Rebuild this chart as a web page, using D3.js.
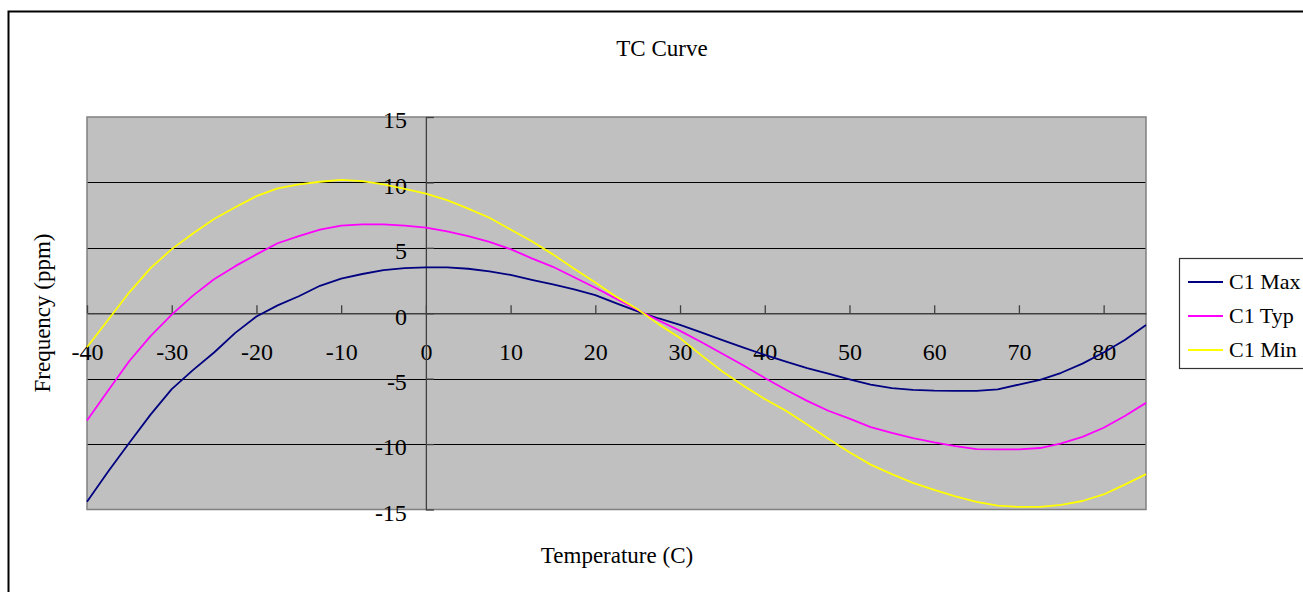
<!DOCTYPE html>
<html>
<head>
<meta charset="utf-8">
<script src="https://cdn.jsdelivr.net/npm/d3@7/dist/d3.min.js"></script>
<style>
  html, body { margin: 0; padding: 0; background: #fff; }
  svg { display: block; }
  text { font-family: "Liberation Serif", "DejaVu Serif", serif; fill: #000; }
</style>
</head>
<body>
<svg id="chart" width="1303" height="592"></svg>
<script>
// ---- data ----
const temps = [-40,-37.5,-35,-32.5,-30,-27.5,-25,-22.5,-20,-17.5,-15,-12.5,-10,-7.5,-5,-2.5,
  0,2.5,5,7.5,10,12.5,15,17.5,20,22.5,25,27.5,30,32.5,35,37.5,40,42.5,45,47.5,50,52.5,55,57.5,
  60,62.5,65,67.5,70,72.5,75,77.5,80,82.5,85];
const c1Max = [-14.4,-12.1,-9.9,-7.75,-5.8,-4.35,-3.0,-1.5,-0.25,0.6,1.3,2.1,2.65,3.0,3.3,3.45,
  3.5,3.5,3.4,3.2,2.93,2.55,2.2,1.83,1.38,0.75,0.15,-0.4,-0.89,-1.46,-2.06,-2.62,-3.18,-3.7,-4.2,-4.62,-5.05,-5.45,-5.72,-5.85,
  -5.92,-5.94,-5.94,-5.82,-5.45,-5.1,-4.55,-3.85,-3.0,-2.05,-0.9];
const c1Typ = [-8.2,-5.9,-3.65,-1.75,-0.1,1.35,2.6,3.6,4.5,5.35,5.9,6.4,6.7,6.8,6.8,6.7,
  6.55,6.25,5.9,5.45,4.9,4.2,3.55,2.75,1.95,1.1,0.25,-0.55,-1.35,-2.2,-3.1,-4.0,-4.95,-5.85,-6.7,-7.45,-8.05,-8.7,-9.15,-9.55,
  -9.87,-10.15,-10.38,-10.4,-10.4,-10.3,-9.95,-9.45,-8.75,-7.85,-6.85];
const c1Min = [-2.6,-0.5,1.6,3.45,4.9,6.1,7.2,8.1,8.95,9.55,9.85,10.05,10.2,10.1,9.85,9.5,
  9.15,8.65,8.0,7.3,6.4,5.5,4.5,3.4,2.35,1.25,0.3,-0.85,-1.9,-3.2,-4.45,-5.55,-6.55,-7.45,-8.5,-9.6,-10.63,-11.57,-12.3,-12.97,
  -13.5,-14.0,-14.42,-14.7,-14.8,-14.8,-14.65,-14.35,-13.85,-13.1,-12.3];
const seriesNames = ["C1 Max", "C1 Typ", "C1 Min"];
const seriesColors = ["#000080", "#FF00FF", "#FFFF00"];
const xTicks = [-40,-30,-20,-10,0,10,20,30,40,50,60,70,80];
const yTicks = [-15,-10,-5,0,5,10,15];
const gridValues = [-10,-5,5,10];
const titleText = "TC Curve";
const xTitle = "Temperature (C)";
const yTitle = "Frequency (ppm)";

const seriesValues = [c1Max, c1Typ, c1Min];

// ---- layout ----
const svg = d3.select("#chart");
const plot = { left: 87, top: 117, right: 1146, bottom: 509.5 };

const x = d3.scaleLinear().domain([-40, 85]).range([plot.left, plot.right]);
const y = d3.scaleLinear().domain([-15, 15]).range([plot.bottom, plot.top]);

const fmt = d => String(d);

// outer frame
svg.append("rect")
  .attr("x", 8.5).attr("y", 11.5)
  .attr("width", 1400).attr("height", 700)
  .attr("fill", "none").attr("stroke", "#000").attr("stroke-width", 2);

// plot background
svg.append("rect")
  .attr("x", plot.left).attr("y", plot.top)
  .attr("width", plot.right - plot.left).attr("height", plot.bottom - plot.top)
  .attr("fill", "#C0C0C0");

// gridlines
svg.append("g").selectAll("line").data(gridValues).join("line")
  .attr("x1", plot.left).attr("x2", plot.right)
  .attr("y1", d => Math.round(y(d)) + 0.5).attr("y2", d => Math.round(y(d)) + 0.5)
  .attr("stroke", "#000").attr("stroke-width", 1);

// plot border
svg.append("rect")
  .attr("x", plot.left).attr("y", plot.top)
  .attr("width", plot.right - plot.left).attr("height", plot.bottom - plot.top)
  .attr("fill", "none").attr("stroke", "#808080").attr("stroke-width", 1.5);

// x axis at y=0
const xAxis = d3.axisBottom(x).tickValues(xTicks).tickFormat(fmt)
  .tickSizeInner(-8).tickSizeOuter(0).tickPadding(30);
const gx = svg.append("g").attr("transform", `translate(0,${y(0)})`).call(xAxis);
gx.select(".domain").attr("stroke", "#404040").attr("stroke-width", 1.3);
gx.selectAll(".tick line").attr("stroke", "#404040").attr("stroke-width", 1.3);
gx.selectAll(".tick text").style("font-size", "24px").style("font-family", "Liberation Serif, serif").attr("fill", "#111");

// y axis at x=0
const yAxis = d3.axisLeft(y).tickValues(yTicks).tickFormat(fmt)
  .tickSizeInner(-8).tickSizeOuter(0).tickPadding(19);
const gy = svg.append("g").attr("transform", `translate(${x(0)},0)`).call(yAxis);
gy.select(".domain").attr("stroke", "#404040").attr("stroke-width", 1.3);
gy.selectAll(".tick line").attr("stroke", "#404040").attr("stroke-width", 1.3);
gy.selectAll(".tick text").style("font-size", "24px").style("font-family", "Liberation Serif, serif")
  .attr("dy", "0.45em").attr("fill", "#111");

// series lines
const line = d3.line().x((d, i) => x(temps[i])).y(d => y(d));
svg.append("g").selectAll("path").data(seriesValues).join("path")
  .attr("d", d => line(d))
  .attr("fill", "none")
  .attr("stroke", (d, i) => seriesColors[i])
  .attr("stroke-width", 1.8)
  .attr("stroke-linejoin", "round");

// titles
svg.append("text").attr("x", 662).attr("y", 56).attr("text-anchor", "middle")
  .style("font-size", "23px").text(titleText);
svg.append("text").attr("x", 617).attr("y", 563).attr("text-anchor", "middle")
  .style("font-size", "23px").text(xTitle);
svg.append("text").attr("transform", "translate(50,313) rotate(-90)").attr("text-anchor", "middle")
  .style("font-size", "23px").text(yTitle);

// legend
const lg = svg.append("g");
lg.append("rect").attr("x", 1179.5).attr("y", 258.5).attr("width", 150).attr("height", 110)
  .attr("fill", "#fff").attr("stroke", "#333").attr("stroke-width", 1.2);
const rowsY = [282, 316, 350];
seriesNames.forEach((name, i) => {
  lg.append("line").attr("x1", 1188).attr("x2", 1223)
    .attr("y1", rowsY[i]).attr("y2", rowsY[i])
    .attr("stroke", seriesColors[i]).attr("stroke-width", 1.8);
  lg.append("text").attr("x", 1229).attr("y", rowsY[i] + 7)
    .style("font-size", "22px").text(name);
});
</script>
</body>
</html>
